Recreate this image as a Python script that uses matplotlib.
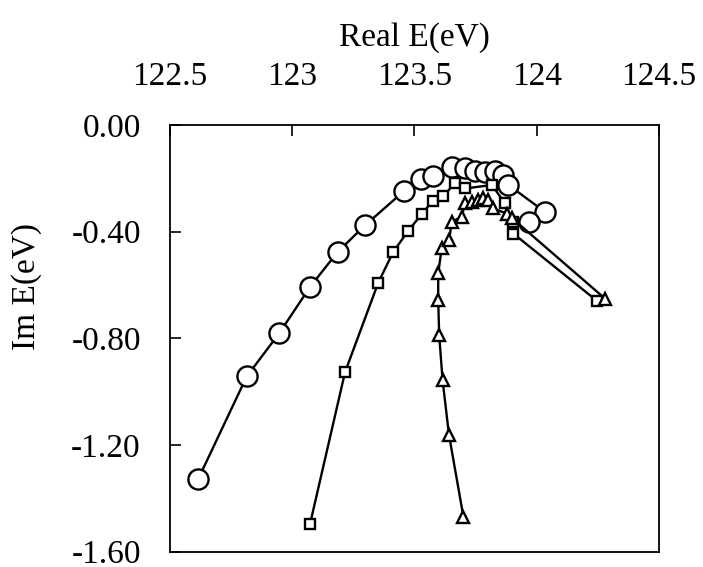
import matplotlib
matplotlib.use("Agg")
import matplotlib.pyplot as plt

plt.rcParams['font.family'] = ['Liberation Serif', 'DejaVu Serif']

# circles
re_circ = [122.616, 122.814, 122.947, 123.073, 123.186, 123.298, 123.457, 123.525,
           123.576, 123.652, 123.707, 123.747, 123.788, 123.829, 123.863, 123.884,
           124.034, 123.970]
im_circ = [-1.327, -0.943, -0.781, -0.607, -0.476, -0.376, -0.248, -0.203,
           -0.190, -0.157, -0.163, -0.172, -0.175, -0.172, -0.188, -0.225,
           -0.326, -0.363]

# squares
re_sq = [123.073, 123.216, 123.352, 123.413, 123.475, 123.529, 123.574, 123.618,
         123.666, 123.707, 123.816, 123.870, 123.903, 123.904, 124.248]
im_sq = [-1.496, -0.927, -0.591, -0.476, -0.396, -0.335, -0.285, -0.265,
         -0.219, -0.238, -0.225, -0.293, -0.363, -0.407, -0.661]

# triangles
re_tri = [123.700, 123.641, 123.615, 123.601, 123.597, 123.597, 123.611, 123.642,
          123.652, 123.693, 123.707, 123.734, 123.761, 123.781, 123.802, 123.822,
          123.877, 123.900, 124.279]
im_tri = [-1.469, -1.162, -0.958, -0.789, -0.657, -0.557, -0.463, -0.432,
          -0.363, -0.344, -0.294, -0.288, -0.282, -0.275, -0.282, -0.313,
          -0.332, -0.350, -0.651]

xticks = [122.5, 123, 123.5, 124, 124.5]
xtick_labels = ['122.5', '123', '123.5', '124', '124.5']
yticks = [0.0, -0.4, -0.8, -1.2, -1.6]
ytick_labels = ['0.00', '-0.40', '-0.80', '-1.20', '-1.60']

fig = plt.figure(figsize=(7.03, 5.67), dpi=100)
ax = fig.add_axes([0.2418, 0.0273, 0.6956, 0.7522])

lw = 1.7
ax.plot(re_circ, im_circ, color='black', lw=lw, marker='o', ms=14.5,
        mfc='white', mec='black', mew=1.7)
ax.plot(re_sq, im_sq, color='black', lw=lw, marker='s', ms=7.5,
        mfc='white', mec='black', mew=1.7)
ax.plot(re_tri, im_tri, color='black', lw=lw, marker='^', ms=8,
        mfc='white', mec='black', mew=1.7)

ax.set_xlim(122.5, 124.5)
ax.set_ylim(-1.6, 0.0)
ax.xaxis.tick_top()
ax.xaxis.set_label_position('top')
ax.set_xticks(xticks)
ax.set_xticklabels(xtick_labels)
ax.set_yticks(yticks)
ax.set_yticklabels(ytick_labels)
ax.tick_params(axis='x', direction='in', length=8, width=1.2, pad=24, labelsize=24)
ax.tick_params(axis='y', direction='in', length=8, width=1.2, pad=21, labelsize=24)
for s in ax.spines.values():
    s.set_linewidth(1.3)

ax.set_xlabel('Real E(eV)', fontsize=24, labelpad=11)
ax.set_ylabel('Im E(eV)', fontsize=24)
ax.yaxis.set_label_coords(-0.262, 0.622)

fig.savefig('out.png', dpi=100)
